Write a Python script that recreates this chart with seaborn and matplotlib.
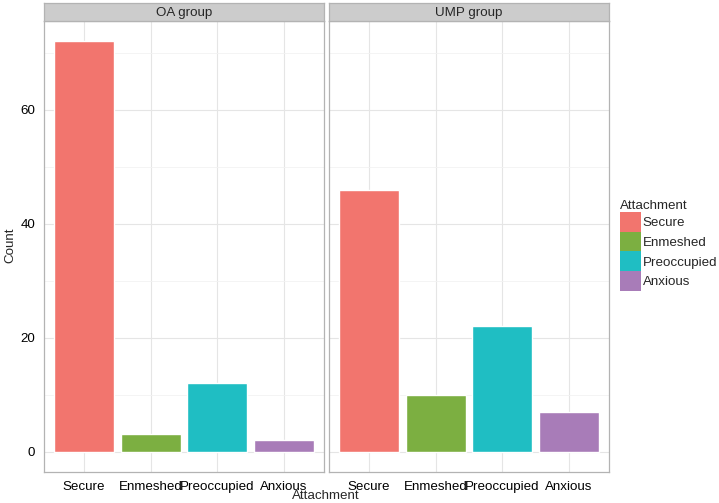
import pandas as pd
import seaborn as sns
import matplotlib.pyplot as plt
from matplotlib.patches import Patch

# data
groups = ["OA group", "UMP group"]
attachment = ["Secure", "Enmeshed", "Preoccupied", "Anxious"]
oa_counts = [72, 3, 12, 2]
ump_counts = [46, 10, 22, 7]
colors = ["#F2756E", "#7CAF41", "#1FBEC3", "#A87CB8"]

df = pd.DataFrame({
    "group": [g for g in groups for _ in attachment],
    "Attachment": attachment * 2,
    "Count": oa_counts + ump_counts,
})

sns.set_style("white")
plt.rcParams["font.family"] = ["Liberation Sans", "DejaVu Sans"]
FS = 9.6

fig = plt.figure(figsize=(7.19, 5.03), dpi=100)
W, H = 719, 503
panels = [(44, 21, 280, 451), (329, 21, 280, 451)]
palette = dict(zip(attachment, colors))

for i, (grp, (x0, y0, w, h)) in enumerate(zip(groups, panels)):
    ax = fig.add_axes([x0 / W, (H - y0 - h) / H, w / W, h / H])
    sub = df[df["group"] == grp]
    sns.barplot(data=sub, x="Attachment", y="Count", hue="Attachment",
                order=attachment, hue_order=attachment, palette=palette,
                width=0.9, saturation=1, legend=False, ax=ax)
    ax.set_xlim(-0.6, 3.6)
    ax.set_ylim(-3.6, 75.6)
    ax.set_yticks([0, 20, 40, 60])
    ax.set_yticks([10, 30, 50, 70], minor=True)
    ax.grid(True, which="major", color="#E5E5E5", lw=0.8)
    ax.grid(True, which="minor", axis="y", color="#F2F2F2", lw=0.6)
    ax.set_axisbelow(True)
    for s in ax.spines.values():
        s.set_color("#B3B3B3")
        s.set_linewidth(0.9)
    ax.set_xlabel("")
    ax.set_ylabel("")
    ax.tick_params(axis="both", which="major", length=3.5, width=0.8,
                   color="#333333", labelsize=FS, labelcolor="black", pad=3)
    ax.tick_params(axis="y", which="minor", length=0)
    if i == 1:
        ax.tick_params(axis="y", left=False, labelleft=False)

    # facet strip
    sax = fig.add_axes([x0 / W, (H - 3 - 18) / H, w / W, 18 / H])
    sax.set_facecolor("#CCCCCC")
    sax.set_xticks([])
    sax.set_yticks([])
    for s in sax.spines.values():
        s.set_color("#B3B3B3")
        s.set_linewidth(0.9)
    sax.text(0.5, 0.45, grp, ha="center", va="center", fontsize=FS,
             transform=sax.transAxes)

fig.text(10 / W, 1 - 245 / H, "Count", ha="center", va="center",
         rotation=90, fontsize=FS)
fig.text(326 / W, 1 - 496 / H, "Attachment", ha="center", va="center",
         fontsize=FS)

handles = [Patch(facecolor=c, edgecolor="none", label=a)
           for a, c in zip(attachment, colors)]
leg = fig.legend(handles=handles, title="Attachment", loc="upper left",
                 bbox_to_anchor=(616 / W, 1 - 196 / H), frameon=False,
                 fontsize=FS, title_fontsize=FS, handlelength=1.58,
                 handleheight=1.9, labelspacing=0.0, handletextpad=0.12,
                 borderaxespad=0, borderpad=0.3)
leg._legend_box.align = "left"

fig.savefig("out.png", dpi=100)
